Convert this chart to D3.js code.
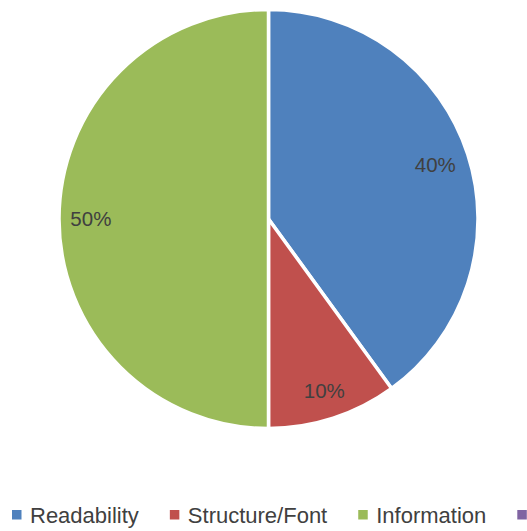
<!DOCTYPE html>
<html>
<head>
<meta charset="utf-8">
<script src="https://cdn.jsdelivr.net/npm/d3@7"></script>
<style>
  html, body { margin: 0; padding: 0; background: #fff; }
  svg { display: block; font-family: "Liberation Sans", Arial, sans-serif; }
</style>
</head>
<body>
<svg id="chart" width="527" height="531"></svg>
<script>
// Share of feedback by topic (percent)
const categories = ["Readability", "Structure/Font", "Information", "Other"];
const values = [40, 10, 50, 0];
const colors = ["#4F81BD", "#C0504D", "#9BBB59", "#8064A2"];

const svg = d3.select("#chart");
const cx = 268.5, cy = 219, R = 209.5;

const data = categories.map((c, i) => ({ name: c, value: values[i], color: colors[i] }));
const total = d3.sum(values);

const pie = d3.pie().value(d => d.value).sort(null);
const arcs = pie(data);
const arc = d3.arc().innerRadius(0).outerRadius(R);

const g = svg.append("g").attr("transform", `translate(${cx},${cy})`);

g.selectAll("path.slice")
  .data(arcs.filter(a => a.data.value > 0))
  .join("path")
  .attr("class", "slice")
  .attr("d", arc)
  .attr("fill", d => d.data.color)
  .attr("stroke", "#fff")
  .attr("stroke-width", 3.5)
  .attr("stroke-linejoin", "round");

// Data labels placed at the inside end of each slice
const pad = 11;
const labels = g.selectAll("text.lbl")
  .data(arcs.filter(a => a.data.value > 0))
  .join("text")
  .attr("class", "lbl")
  .attr("text-anchor", "middle")
  .attr("dy", "0.35em")
  .attr("font-size", 20.5)
  .attr("fill", "#404040")
  .text(d => Math.round(d.data.value / total * 100) + "%");

labels.each(function(d) {
  const bb = this.getBBox();
  const hw = bb.width / 2, hh = bb.height / 2;
  const a = (d.startAngle + d.endAngle) / 2;
  const ux = Math.sin(a), uy = -Math.cos(a);
  const fits = dist => {
    const x = ux * dist, y = uy * dist;
    const fx = Math.abs(x) + hw, fy = Math.abs(y) + hh;
    return Math.hypot(fx, fy) <= R - pad;
  };
  let lo = 0, hi = R;
  for (let k = 0; k < 40; k++) {
    const mid = (lo + hi) / 2;
    if (fits(mid)) lo = mid; else hi = mid;
  }
  d3.select(this).attr("x", ux * lo).attr("y", uy * lo);
});

// Legend along the bottom; the last entry runs past the right edge
const legend = svg.append("g").attr("transform", "translate(12,515)");
let x = 0;
data.forEach(d => {
  const item = legend.append("g").attr("transform", `translate(${x},0)`);
  item.append("rect")
    .attr("x", 0).attr("y", -5)
    .attr("width", 9.5).attr("height", 9.5)
    .attr("fill", d.color);
  const t = item.append("text")
    .attr("x", 18).attr("y", 0).attr("dy", "0.36em")
    .attr("font-size", 22)
    .attr("fill", "#404040")
    .text(d.name);
  x += 18 + t.node().getComputedTextLength() + 31;
});
</script>
</body>
</html>
